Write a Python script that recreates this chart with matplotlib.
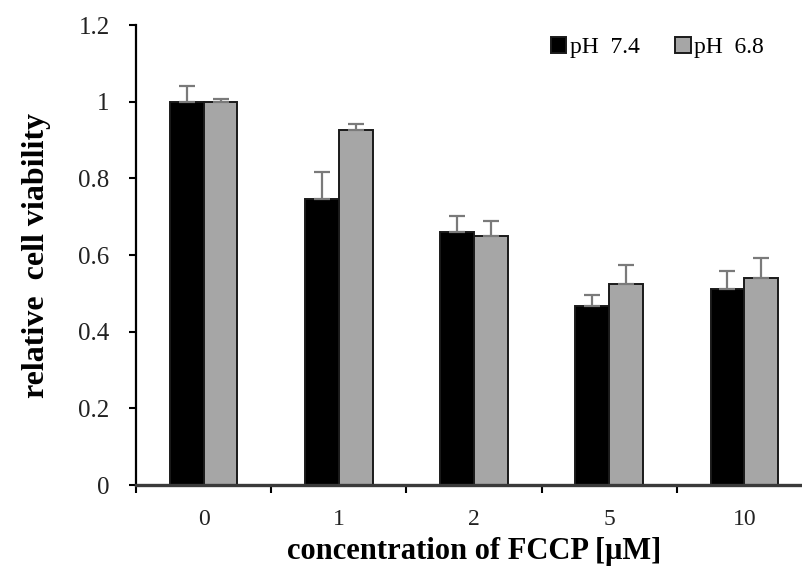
import matplotlib
matplotlib.use("Agg")
import matplotlib.pyplot as plt

# values
concentrations = ["0", "1", "2", "5", "10"]
ph74_mean = [1.0, 0.745, 0.66, 0.467, 0.512]
ph74_err = [0.04, 0.072, 0.043, 0.029, 0.046]
ph68_mean = [1.0, 0.926, 0.649, 0.525, 0.54]
ph68_err = [0.006, 0.016, 0.04, 0.05, 0.052]
series_names = ["pH  7.4", "pH  6.8"]
y_ticks = [0, 0.2, 0.4, 0.6, 0.8, 1.0, 1.2]
y_tick_labels = ["0", "0.2", "0.4", "0.6", "0.8", "1", "1.2"]

plt.rcParams["font.family"] = ["Liberation Serif", "DejaVu Serif"]

fig = plt.figure(figsize=(8.03, 5.66), dpi=100)
ax = fig.add_axes([0.1694, 0.1431, 0.8418, 0.8127])

x = list(range(len(concentrations)))
w = 0.25
x_black = [i - w / 2 for i in x]
x_gray = [i + w / 2 for i in x]

err_kw = dict(ecolor="#7a7a7a", elinewidth=1.6, capsize=5.5, capthick=1.6)
ax.bar(x_black, ph74_mean, w, color="black", edgecolor="#1a1a1a", linewidth=1.4,
       yerr=[[0] * len(x), ph74_err], error_kw=err_kw, label=series_names[0], zorder=2)
ax.bar(x_gray, ph68_mean, w, color="#a6a6a6", edgecolor="#1a1a1a", linewidth=1.4,
       yerr=[[0] * len(x), ph68_err], error_kw=err_kw, label=series_names[1], zorder=2)

ax.set_xlim(-0.5, len(x) - 0.5)
ax.set_ylim(0, 1.2)

# y axis
ax.set_yticks(y_ticks)
ax.set_yticklabels(y_tick_labels, fontsize=18, color="#222222")
ax.tick_params(axis="y", direction="out", length=5, width=1.5, pad=14)

# x axis: labels at centres, ticks at category boundaries
ax.set_xticks(x)
ax.set_xticklabels(concentrations, fontsize=17, color="#222222")
ax.set_xticks([i - 0.5 for i in range(len(x) + 1)], minor=True)
ax.tick_params(axis="x", which="major", length=0, pad=17)
ax.tick_params(axis="x", which="minor", direction="out", length=6, width=1.5)

ax.spines["top"].set_visible(False)
ax.spines["right"].set_visible(False)
ax.spines["left"].set_linewidth(1.6)
ax.spines["bottom"].set_linewidth(2.4)
ax.spines["bottom"].set_color("#3a3a3a")

ax.set_ylabel("relative  cell viability", fontsize=23, fontweight="bold", labelpad=20)
ax.set_xlabel("concentration of FCCP [\u03bcM]", fontsize=22, fontweight="bold", labelpad=5)

ax.legend(loc="upper left", bbox_to_anchor=(0.6, 0.995), ncol=2, frameon=False,
          fontsize=17, handlelength=0.65, handleheight=0.65, handletextpad=0.15,
          columnspacing=1.5, borderaxespad=0)

fig.savefig("out.png", dpi=100)
